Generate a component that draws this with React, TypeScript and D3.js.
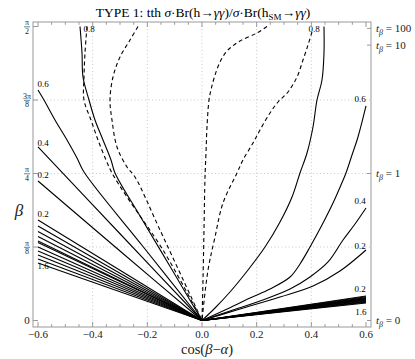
import React from 'react';
import * as d3 from 'd3';

// contour lines: [cos(beta-alpha), beta]
const solid08Left = [[-0.4463, 1.5708], [-0.439, 1.4293], [-0.4354, 1.301], [-0.4134, 1.1781], [-0.3915, 1.0713], [-0.3622, 0.9645], [-0.3329, 0.8576], [-0.3183, 0.7881], [-0.2268, 0.5583], [-0.1134, 0.2805], [0, 0]];
const solid06Left = [[-0.6, 1.2316], [-0.5781, 1.1781], [-0.5378, 1.0713], [-0.4939, 0.9645], [-0.4573, 0.8682], [-0.4317, 0.7934], [-0.2159, 0.3954], [0, 0]];
const solid04Left = [[-0.6, 0.927], [-0.3, 0.4635], [0, 0]];
const solid02Left = [[-0.6, 0.7453], [-0.3, 0.3713], [0, 0]];
const solid08Right = [[0.4463, 1.5708], [0.4463, 1.4293], [0.439, 1.285], [0.4207, 1.1781], [0.4061, 1.0339], [0.3842, 0.895], [0.3585, 0.7881], [0.3293, 0.6599], [0.2854, 0.5263], [0.2305, 0.3927], [0.1683, 0.2698], [0.1024, 0.1523], [0.0476, 0.0668], [0, 0]];
const solid06Right = [[0.6, 1.1461], [0.5707, 0.9804], [0.5488, 0.8843], [0.5268, 0.7881], [0.5085, 0.724], [0.4793, 0.6278], [0.439, 0.5103], [0.3951, 0.3927], [0.3585, 0.3019], [0.322, 0.2324], [0.2488, 0.1683], [0.1756, 0.1202], [0.0841, 0.0561], [0, 0]];
const solid04Right = [[0.6, 0.6011], [0.5598, 0.5156], [0.5159, 0.4301], [0.461, 0.3126], [0.3951, 0.2324], [0.322, 0.1683], [0.2122, 0.1042], [0.1024, 0.0508], [0, 0]];
const solid02Right = [[0.6, 0.3767], [0.5049, 0.2645], [0.4061, 0.1843], [0.2854, 0.1256], [0.139, 0.0614], [0, 0]];

const dashedLeftOuter = [[-0.4207, 1.5708], [-0.4281, 1.4293], [-0.4317, 1.301], [-0.4317, 1.1781], [-0.4061, 1.0713], [-0.3805, 0.9645], [-0.3512, 0.8576], [-0.3293, 0.7881], [-0.2744, 0.6599], [-0.1427, 0.3767], [0, 0]];
const dashedLeftInner = [[-0.2342, 1.5708], [-0.2634, 1.4987], [-0.3, 1.4079], [-0.3256, 1.301], [-0.3366, 1.1781], [-0.3293, 1.0713], [-0.311, 0.927], [-0.2744, 0.8202], [-0.2451, 0.7667], [-0.1537, 0.4835], [0, 0]];
const dashedRightInner = [[0.2378, 1.5708], [0.2012, 1.5361], [0.139, 1.4934], [0.0951, 1.4453], [0.0695, 1.3918], [0.0476, 1.3117], [0.0329, 1.2316], [0.0256, 1.1781], [0.0183, 1.0339], [0.0146, 0.895], [0.011, 0.7667], [0.0073, 0.4835], [0.0037, 0.2164], [0, 0]];
const dashedRightOuter = [[0.4024, 1.5415], [0.3878, 1.472], [0.3695, 1.3918], [0.3476, 1.301], [0.3146, 1.2209], [0.2781, 1.1674], [0.2488, 1.1087], [0.2122, 1.0178], [0.1866, 0.9484], [0.15, 0.8576], [0.1281, 0.7881], [0.0768, 0.6278], [0.0476, 0.4461], [0.022, 0.2698], [0, 0]];

// lower fans (0.2 ... 1.6): beta where each line meets cos(beta-alpha) = -0.6 / 0.6
const fanLeftBeta = [0.537, 0.5049, 0.4755, 0.4488, 0.4248, 0.4168, 0.3927, 0.3713, 0.35, 0.3286, 0.3072];
const fanRightBeta = [0.1309, 0.1266, 0.1224, 0.1181, 0.1149, 0.1117, 0.1079, 0.1042, 0.101, 0.0972, 0.0935];

const contourLabels = [
  { t: '0.8', c: -0.4134, b: 1.5575 }, { t: '0.8', c: 0.4098, b: 1.5575 },
  { t: '0.6', c: -0.5817, b: 1.2636 }, { t: '0.6', c: 0.5781, b: 1.1835 },
  { t: '0.4', c: -0.5817, b: 0.9484 }, { t: '0.4', c: 0.5781, b: 0.6385 },
  { t: '0.2', c: -0.5817, b: 0.7774 }, { t: '0.2', c: -0.5817, b: 0.569 },
  { t: '0.2', c: 0.5781, b: 0.3981 }, { t: '0.2', c: 0.5781, b: 0.1683 },
  { t: '1.6', c: -0.5817, b: 0.2912 }, { t: '1.6', c: 0.5817, b: 0.0454 },
];

const xTicks = [-0.6, -0.4, -0.2, 0, 0.2, 0.4, 0.6];
const xTickLabels = ['\u22120.6', '\u22120.4', '\u22120.2', '0.0', '0.2', '0.4', '0.6'];
const yTicks = [0, Math.PI / 8, Math.PI / 4, (3 * Math.PI) / 8, Math.PI / 2];
const yTickLabels = [['0', ''], ['\u03c0', '8'], ['\u03c0', '4'], ['3\u03c0', '8'], ['\u03c0', '2']];
const tanBeta = [100, 10, 1, 0];

const W = 415, H = 359;
const FONT = "'Liberation Serif', 'Times New Roman', serif";

export default function App() {
  const x = d3.scaleLinear().domain([-0.6, 0.6]).range([38, 366]);
  const y = d3.scaleLinear().domain([0, Math.PI / 2]).range([320.5, 26.5]);
  const left = x(-0.6) - 5, right = x(0.6) + 5, top = y(Math.PI / 2) - 4.5, bottom = y(0) + 6.5;

  const line = d3.line<number[]>().x(d => x(d[0])).y(d => y(d[1])).curve(d3.curveCatmullRom.alpha(0.5));

  const solids = [solid08Left, solid06Left, solid04Left, solid02Left, solid08Right, solid06Right, solid04Right, solid02Right,
    ...fanLeftBeta.map(b => [[-0.6, b], [0, 0]]), ...fanRightBeta.map(b => [[0.6, b], [0, 0]])];
  const dashed = [dashedLeftOuter, dashedLeftInner, dashedRightInner, dashedRightOuter];

  const minor = d3.range(-0.6, 0.6001, 0.05);
  const grey = '#999';

  return (
    <svg width={W} height={H} style={{ position: 'fixed', left: 0, top: 0, background: '#fff' }} fontFamily={FONT}>
      <defs>
        <clipPath id="plot"><rect x={left} y={top} width={right - left} height={bottom - top} /></clipPath>
      </defs>
      {/* grid */}
      <g stroke="#bbb" strokeWidth={0.8} strokeDasharray="1,2.5">
        {[-0.4, -0.2, 0, 0.2, 0.4].map(v => <line key={'gx' + v} x1={x(v)} x2={x(v)} y1={top} y2={bottom} />)}
        {yTicks.slice(1, 4).map((v, i) => <line key={'gy' + i} x1={left} x2={right} y1={y(v)} y2={y(v)} />)}
      </g>
      {/* contours */}
      <g clipPath="url(#plot)" fill="none" stroke="#000" strokeWidth={1.1}>
        {solids.map((d, i) => <path key={'s' + i} d={line(d as number[][]) || ''} />)}
        {dashed.map((d, i) => <path key={'d' + i} d={line(d) || ''} strokeDasharray="4,3" />)}
      </g>
      <g fontSize={9} textAnchor="middle" fill="#000">
        {contourLabels.map((l, i) => <text key={'cl' + i} x={x(l.c)} y={y(l.b)} dy="0.35em">{l.t}</text>)}
      </g>
      {/* frame */}
      <rect x={left} y={top} width={right - left} height={bottom - top} fill="none" stroke={grey} strokeWidth={1} />
      <g stroke={grey} strokeWidth={1}>
        {minor.map((v, i) => {
          const major = Math.abs(Math.round(v * 5) - v * 5) < 1e-6;
          const len = major ? 5 : 2.8;
          return (
            <g key={'mt' + i}>
              <line x1={x(v)} x2={x(v)} y1={bottom} y2={bottom - len} />
              <line x1={x(v)} x2={x(v)} y1={top} y2={top + len} />
            </g>
          );
        })}
        {yTicks.map((v, i) => <line key={'yt' + i} x1={left} x2={left + 5} y1={y(v)} y2={y(v)} />)}
        {tanBeta.map((t, i) => <line key={'rt' + i} x1={right} x2={right - 4} y1={y(Math.atan(t))} y2={y(Math.atan(t))} />)}
      </g>
      {/* x tick labels */}
      <g fontSize={11} textAnchor="middle" fill="#222">
        {xTicks.map((v, i) => <text key={'xl' + i} x={x(v)} y={bottom + 11}>{xTickLabels[i]}</text>)}
      </g>
      {/* y tick labels as fractions */}
      <g fontSize={8} textAnchor="middle" fill="#222">
        {yTicks.map((v, i) => {
          const [num, den] = yTickLabels[i];
          const cx = left - 6;
          if (!den) return <text key={'yl' + i} x={cx} y={y(v)} dy="0.35em" fontSize={11}>{num}</text>;
          return (
            <g key={'yl' + i}>
              <text x={cx} y={y(v) - 1.5}>{num}</text>
              <line x1={cx - 3} x2={cx + 3} y1={y(v) + 0.3} y2={y(v) + 0.3} stroke="#222" strokeWidth={0.6} />
              <text x={cx} y={y(v) + 7}>{den}</text>
            </g>
          );
        })}
      </g>
      {/* right tan beta labels */}
      <g fontSize={11} fill="#222">
        {tanBeta.map((t, i) => (
          <text key={'tb' + i} x={right + 5} y={y(Math.atan(t))} dy="0.35em">
            <tspan fontStyle="italic">t</tspan>
            <tspan fontStyle="italic" fontSize={8} dy="2.5">{'\u03b2'}</tspan>
            <tspan dy="-2.5">{' = ' + t}</tspan>
          </text>
        ))}
      </g>
      {/* axis titles */}
      <text x={19} y={216} fontSize={17} fontStyle="italic" textAnchor="middle" fill="#222">{'\u03b2'}</text>
      <text x={(left + right) / 2 + 5} y={354} fontSize={14.5} textAnchor="middle" fill="#222">
        cos(<tspan fontStyle="italic">{'\u03b2'}</tspan>{'\u2212'}<tspan fontStyle="italic">{'\u03b1'}</tspan>)
      </text>
      <text x={(left + right) / 2 + 1} y={17} fontSize={13.5} textAnchor="middle" fill="#000">
        TYPE 1: tth <tspan fontStyle="italic">{'\u03c3'}</tspan>{'\u00b7'}Br(h{'\u2192'}<tspan fontStyle="italic">{'\u03b3\u03b3'}</tspan>)/<tspan fontStyle="italic">{'\u03c3'}</tspan>{'\u00b7'}Br(h<tspan fontSize={9} dy="3">SM</tspan><tspan dy="-3">{'\u2192'}</tspan><tspan fontStyle="italic">{'\u03b3\u03b3'}</tspan>)
      </text>
    </svg>
  );
}
